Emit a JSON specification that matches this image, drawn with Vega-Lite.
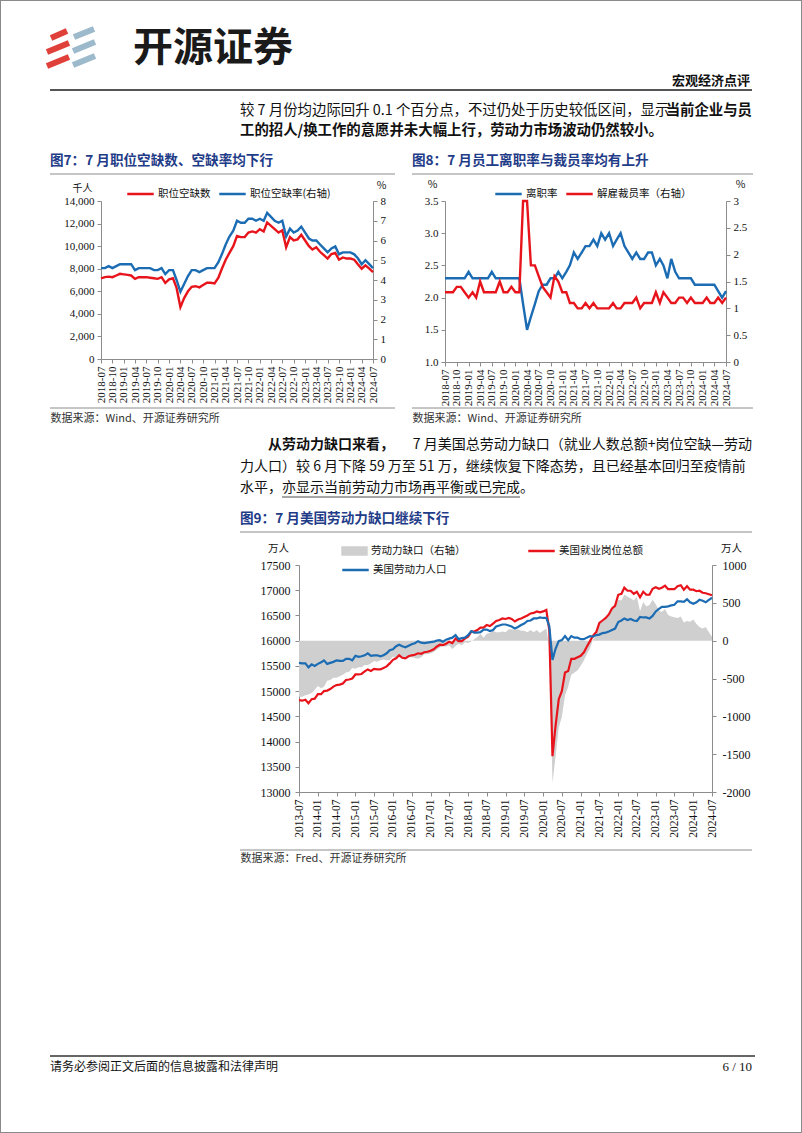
{
"$schema":"https://vega.github.io/schema/vega-lite/v6.json",
"width":802,"height":1133,"padding":0,"autosize":{"type":"none"},
"background":"white",
"config":{
 "view":{"stroke":"#8a8a8a","strokeWidth":2},
 "axis":{"grid":false,"labelFont":"Liberation Serif","labelFontSize":11,"labelColor":"#111","domainColor":"#8c8c8c","tickColor":"#8c8c8c","tickSize":4,"titleFont":"Noto Sans CJK SC","titleFontWeight":"normal","titleFontSize":10.5,"titleColor":"#111","titleAngle":0,"titleAlign":"center","titleBaseline":"middle","labelOverlap":false,"labelBound":false,"labelFlush":false,"labelPadding":3},
 "legend":{"orient":"none","labelFont":"Noto Sans CJK SC","labelFontSize":10.5,"labelColor":"#111","symbolSize":700,"symbolStrokeWidth":2.5,"labelOffset":3,"clipHeight":14,"padding":0,"columnPadding":7,"symbolOpacity":1}
},
"layer":[
{
 "data":{"values":[
{"month":"2018-07","openings":7150,"rate":4.6},{"month":"2018-08","openings":7250,"rate":4.6},{"month":"2018-09","openings":7300,"rate":4.7},{"month":"2018-10","openings":7250,"rate":4.6},{"month":"2018-11","openings":7400,"rate":4.7},{"month":"2018-12","openings":7550,"rate":4.8},
{"month":"2019-01","openings":7500,"rate":4.8},{"month":"2019-02","openings":7450,"rate":4.8},{"month":"2019-03","openings":7400,"rate":4.8},{"month":"2019-04","openings":7100,"rate":4.5},{"month":"2019-05","openings":7250,"rate":4.6},{"month":"2019-06","openings":7250,"rate":4.6},
{"month":"2019-07","openings":7250,"rate":4.6},{"month":"2019-08","openings":7200,"rate":4.6},{"month":"2019-09","openings":7150,"rate":4.5},{"month":"2019-10","openings":7100,"rate":4.5},{"month":"2019-11","openings":7250,"rate":4.6},{"month":"2019-12","openings":6750,"rate":4.3},
{"month":"2020-01","openings":7050,"rate":4.5},{"month":"2020-02","openings":7150,"rate":4.5},{"month":"2020-03","openings":6300,"rate":4.0},{"month":"2020-04","openings":4600,"rate":3.4},{"month":"2020-05","openings":5400,"rate":3.8},{"month":"2020-06","openings":6000,"rate":4.2},
{"month":"2020-07","openings":6400,"rate":4.5},{"month":"2020-08","openings":6450,"rate":4.5},{"month":"2020-09","openings":6350,"rate":4.4},{"month":"2020-10","openings":6550,"rate":4.5},{"month":"2020-11","openings":6750,"rate":4.6},{"month":"2020-12","openings":6750,"rate":4.6},
{"month":"2021-01","openings":6700,"rate":4.6},{"month":"2021-02","openings":7200,"rate":4.9},{"month":"2021-03","openings":8000,"rate":5.3},{"month":"2021-04","openings":8800,"rate":5.8},{"month":"2021-05","openings":9400,"rate":6.2},{"month":"2021-06","openings":10000,"rate":6.5},
{"month":"2021-07","openings":10900,"rate":7.0},{"month":"2021-08","openings":10800,"rate":6.9},{"month":"2021-09","openings":10800,"rate":6.9},{"month":"2021-10","openings":11200,"rate":7.1},{"month":"2021-11","openings":11300,"rate":7.1},{"month":"2021-12","openings":11200,"rate":7.0},
{"month":"2022-01","openings":11500,"rate":7.1},{"month":"2022-02","openings":11300,"rate":7.0},{"month":"2022-03","openings":12100,"rate":7.4},{"month":"2022-04","openings":11800,"rate":7.2},{"month":"2022-05","openings":11500,"rate":7.0},{"month":"2022-06","openings":11200,"rate":6.9},
{"month":"2022-07","openings":11400,"rate":7.0},{"month":"2022-08","openings":9900,"rate":6.2},{"month":"2022-09","openings":10800,"rate":6.6},{"month":"2022-10","openings":10500,"rate":6.4},{"month":"2022-11","openings":10600,"rate":6.5},{"month":"2022-12","openings":11000,"rate":6.7},
{"month":"2023-01","openings":10500,"rate":6.4},{"month":"2023-02","openings":10000,"rate":6.1},{"month":"2023-03","openings":9700,"rate":6.0},{"month":"2023-04","openings":9900,"rate":6.0},{"month":"2023-05","openings":9500,"rate":5.8},{"month":"2023-06","openings":9200,"rate":5.6},
{"month":"2023-07","openings":8900,"rate":5.4},{"month":"2023-08","openings":9300,"rate":5.6},{"month":"2023-09","openings":9400,"rate":5.7},{"month":"2023-10","openings":8800,"rate":5.3},{"month":"2023-11","openings":9000,"rate":5.4},{"month":"2023-12","openings":8900,"rate":5.4},
{"month":"2024-01","openings":8900,"rate":5.4},{"month":"2024-02","openings":8800,"rate":5.3},{"month":"2024-03","openings":8400,"rate":5.1},{"month":"2024-04","openings":8000,"rate":4.8},{"month":"2024-05","openings":8300,"rate":5.0},{"month":"2024-06","openings":8000,"rate":4.8},
{"month":"2024-07","openings":7700,"rate":4.6}
 ]},
 "layer":[
  {"mark":{"type":"line","strokeWidth":2.4},
   "encoding":{
    "x":{"field":"month","type":"temporal","scale":{"type":"utc","nice":false,"domain":[{"year":2018,"month":7,"date":1,"utc":true},{"year":2024,"month":7,"date":1,"utc":true}],"range":[101,373]},
         "axis":{"orient":"bottom","offset":-774,"labelExpr":"utcFormat(datum.value, '%Y-%m')","tickCount":{"interval":"month","step":3},"labelAngle":270,"title":"数据来源：Wind、开源证券研究所","titleX":50,"titleY":59,"titleAlign":"left","titleFontSize":11,"titleColor":"#333"}},
    "y":{"field":"openings","type":"quantitative","scale":{"domain":[0,14000],"range":[359,201],"nice":false},
         "axis":{"orient":"left","offset":-101,"values":[0,2000,4000,6000,8000,10000,12000,14000],"format":",d","title":"千人","titleX":-19,"titleY":188,"titleFontSize":10}},
    "color":{"datum":"职位空缺数","scale":{"domain":["职位空缺数","职位空缺率(右轴)"],"range":["#e8141c","#1c6cb4"]},
         "legend":{"title":null,"legendX":126,"legendY":187,"direction":"horizontal","symbolType":"stroke"}}
   }},
  {"mark":{"type":"line","strokeWidth":2.4},
   "encoding":{
    "x":{"field":"month","type":"temporal"},
    "y":{"field":"rate","type":"quantitative","scale":{"domain":[0,8],"range":[359,201],"nice":false},
         "axis":{"orient":"right","offset":-429,"values":[0,1,2,3,4,5,6,7,8],"title":"%","titleX":8,"titleY":185}},
    "color":{"datum":"职位空缺率(右轴)"}
   }}
 ],
 "resolve":{"scale":{"y":"independent"}}
},
{
 "data":{"values":[
{"month":"2018-07","quits":2.3,"layoffs":1.3},{"month":"2018-08","quits":2.3,"layoffs":1.3},{"month":"2018-09","quits":2.3,"layoffs":1.3},{"month":"2018-10","quits":2.3,"layoffs":1.4},{"month":"2018-11","quits":2.3,"layoffs":1.4},{"month":"2018-12","quits":2.3,"layoffs":1.3},
{"month":"2019-01","quits":2.4,"layoffs":1.2},{"month":"2019-02","quits":2.3,"layoffs":1.3},{"month":"2019-03","quits":2.3,"layoffs":1.2},{"month":"2019-04","quits":2.3,"layoffs":1.5},{"month":"2019-05","quits":2.3,"layoffs":1.3},{"month":"2019-06","quits":2.3,"layoffs":1.3},
{"month":"2019-07","quits":2.4,"layoffs":1.3},{"month":"2019-08","quits":2.3,"layoffs":1.3},{"month":"2019-09","quits":2.3,"layoffs":1.5},{"month":"2019-10","quits":2.3,"layoffs":1.3},{"month":"2019-11","quits":2.3,"layoffs":1.3},{"month":"2019-12","quits":2.3,"layoffs":1.4},
{"month":"2020-01","quits":2.3,"layoffs":1.3},{"month":"2020-02","quits":2.3,"layoffs":1.3},{"month":"2020-03","quits":1.9,"layoffs":7.5},{"month":"2020-04","quits":1.5,"layoffs":5.9},{"month":"2020-05","quits":1.7,"layoffs":1.8},{"month":"2020-06","quits":1.9,"layoffs":1.8},
{"month":"2020-07","quits":2.1,"layoffs":1.6},{"month":"2020-08","quits":2.2,"layoffs":1.4},{"month":"2020-09","quits":2.2,"layoffs":1.3},{"month":"2020-10","quits":2.3,"layoffs":1.2},{"month":"2020-11","quits":2.3,"layoffs":1.6},{"month":"2020-12","quits":2.4,"layoffs":1.5},
{"month":"2021-01","quits":2.3,"layoffs":1.3},{"month":"2021-02","quits":2.4,"layoffs":1.3},{"month":"2021-03","quits":2.5,"layoffs":1.1},{"month":"2021-04","quits":2.7,"layoffs":1.1},{"month":"2021-05","quits":2.6,"layoffs":1.0},{"month":"2021-06","quits":2.7,"layoffs":1.0},
{"month":"2021-07","quits":2.8,"layoffs":1.1},{"month":"2021-08","quits":2.8,"layoffs":1.0},{"month":"2021-09","quits":2.9,"layoffs":1.1},{"month":"2021-10","quits":2.8,"layoffs":1.0},{"month":"2021-11","quits":3.0,"layoffs":1.0},{"month":"2021-12","quits":2.9,"layoffs":1.0},
{"month":"2022-01","quits":3.0,"layoffs":1.0},{"month":"2022-02","quits":2.8,"layoffs":1.1},{"month":"2022-03","quits":2.9,"layoffs":1.0},{"month":"2022-04","quits":3.0,"layoffs":1.0},{"month":"2022-05","quits":2.8,"layoffs":1.1},{"month":"2022-06","quits":2.7,"layoffs":1.1},
{"month":"2022-07","quits":2.6,"layoffs":1.1},{"month":"2022-08","quits":2.7,"layoffs":1.2},{"month":"2022-09","quits":2.6,"layoffs":1.0},{"month":"2022-10","quits":2.6,"layoffs":1.1},{"month":"2022-11","quits":2.7,"layoffs":1.1},{"month":"2022-12","quits":2.7,"layoffs":1.1},
{"month":"2023-01","quits":2.5,"layoffs":1.3},{"month":"2023-02","quits":2.6,"layoffs":1.1},{"month":"2023-03","quits":2.5,"layoffs":1.3},{"month":"2023-04","quits":2.3,"layoffs":1.2},{"month":"2023-05","quits":2.6,"layoffs":1.1},{"month":"2023-06","quits":2.4,"layoffs":1.1},
{"month":"2023-07","quits":2.3,"layoffs":1.2},{"month":"2023-08","quits":2.3,"layoffs":1.2},{"month":"2023-09","quits":2.3,"layoffs":1.1},{"month":"2023-10","quits":2.3,"layoffs":1.2},{"month":"2023-11","quits":2.2,"layoffs":1.1},{"month":"2023-12","quits":2.2,"layoffs":1.1},
{"month":"2024-01","quits":2.2,"layoffs":1.1},{"month":"2024-02","quits":2.2,"layoffs":1.2},{"month":"2024-03","quits":2.2,"layoffs":1.1},{"month":"2024-04","quits":2.2,"layoffs":1.1},{"month":"2024-05","quits":2.1,"layoffs":1.2},{"month":"2024-06","quits":2.0,"layoffs":1.1},
{"month":"2024-07","quits":2.1,"layoffs":1.2}
 ]},
 "layer":[
  {"mark":{"type":"line","strokeWidth":2.4},
   "encoding":{
    "x":{"field":"month","type":"temporal","scale":{"type":"utc","nice":false,"domain":[{"year":2018,"month":7,"date":1,"utc":true},{"year":2024,"month":7,"date":1,"utc":true}],"range":[445,726]},
         "axis":{"orient":"bottom","offset":-771,"labelExpr":"utcFormat(datum.value, '%Y-%m')","tickCount":{"interval":"month","step":3},"labelAngle":270,"title":"数据来源：Wind、开源证券研究所","titleX":412,"titleY":56,"titleAlign":"left","titleFontSize":11,"titleColor":"#333"}},
    "y":{"field":"quits","type":"quantitative","scale":{"domain":[1,3.5],"range":[362,201],"nice":false,"zero":false},
         "axis":{"orient":"left","offset":-445,"values":[1,1.5,2,2.5,3,3.5],"format":".1f","title":"%","titleX":-13,"titleY":184}},
    "color":{"datum":"离职率","scale":{"domain":["离职率","解雇裁员率（右轴）"],"range":["#1c6cb4","#e8141c"]},
         "legend":{"title":null,"legendX":494,"legendY":187,"direction":"horizontal","symbolType":"stroke"}}
   }},
  {"mark":{"type":"line","strokeWidth":2.4},
   "encoding":{
    "x":{"field":"month","type":"temporal"},
    "y":{"field":"layoffs","type":"quantitative","scale":{"domain":[0,3],"range":[362,201],"nice":false,"clamp":true},
         "axis":{"orient":"right","offset":-76,"values":[0,0.5,1,1.5,2,2.5,3],"format":"~g","title":"%","titleX":14,"titleY":184}},
    "color":{"datum":"解雇裁员率（右轴）"}
   }}
 ],
 "resolve":{"scale":{"y":"independent"}}
},
{
 "data":{"values":[
{"month":"2013-07","jobs":14820,"labor":15560,"gap":-740},{"month":"2013-08","jobs":14810,"labor":15550,"gap":-740},{"month":"2013-09","jobs":14830,"labor":15550,"gap":-720},{"month":"2013-10","jobs":14760,"labor":15470,"gap":-710},{"month":"2013-11","jobs":14840,"labor":15530,"gap":-690},{"month":"2013-12","jobs":14850,"labor":15500,"gap":-650},
{"month":"2014-01","jobs":14940,"labor":15540,"gap":-600},{"month":"2014-02","jobs":14940,"labor":15570,"gap":-630},{"month":"2014-03","jobs":15000,"labor":15610,"gap":-610},{"month":"2014-04","jobs":15010,"labor":15540,"gap":-530},{"month":"2014-05","jobs":15040,"labor":15560,"gap":-520},{"month":"2014-06","jobs":15090,"labor":15580,"gap":-490},
{"month":"2014-07","jobs":15120,"labor":15610,"gap":-490},{"month":"2014-08","jobs":15130,"labor":15600,"gap":-470},{"month":"2014-09","jobs":15150,"labor":15600,"gap":-450},{"month":"2014-10","jobs":15220,"labor":15640,"gap":-420},{"month":"2014-11","jobs":15230,"labor":15640,"gap":-410},{"month":"2014-12","jobs":15250,"labor":15610,"gap":-360},
{"month":"2015-01","jobs":15330,"labor":15700,"gap":-370},{"month":"2015-02","jobs":15330,"labor":15680,"gap":-350},{"month":"2015-03","jobs":15340,"labor":15690,"gap":-350},{"month":"2015-04","jobs":15390,"labor":15710,"gap":-320},{"month":"2015-05","jobs":15430,"labor":15750,"gap":-320},{"month":"2015-06","jobs":15400,"labor":15700,"gap":-300},
{"month":"2015-07","jobs":15440,"labor":15710,"gap":-270},{"month":"2015-08","jobs":15430,"labor":15710,"gap":-280},{"month":"2015-09","jobs":15430,"labor":15690,"gap":-260},{"month":"2015-10","jobs":15460,"labor":15710,"gap":-250},{"month":"2015-11","jobs":15490,"labor":15750,"gap":-260},{"month":"2015-12","jobs":15550,"labor":15810,"gap":-260},
{"month":"2016-01","jobs":15620,"labor":15830,"gap":-210},{"month":"2016-02","jobs":15650,"labor":15890,"gap":-240},{"month":"2016-03","jobs":15710,"labor":15920,"gap":-210},{"month":"2016-04","jobs":15660,"labor":15890,"gap":-230},{"month":"2016-05","jobs":15650,"labor":15870,"gap":-220},{"month":"2016-06","jobs":15690,"labor":15900,"gap":-210},
{"month":"2016-07","jobs":15710,"labor":15930,"gap":-220},{"month":"2016-08","jobs":15720,"labor":15950,"gap":-230},{"month":"2016-09","jobs":15750,"labor":15990,"gap":-240},{"month":"2016-10","jobs":15740,"labor":15960,"gap":-220},{"month":"2016-11","jobs":15770,"labor":15950,"gap":-180},{"month":"2016-12","jobs":15780,"labor":15960,"gap":-180},
{"month":"2017-01","jobs":15800,"labor":15970,"gap":-170},{"month":"2017-02","jobs":15830,"labor":15980,"gap":-150},{"month":"2017-03","jobs":15880,"labor":16000,"gap":-120},{"month":"2017-04","jobs":15920,"labor":16010,"gap":-90},{"month":"2017-05","jobs":15910,"labor":15980,"gap":-70},{"month":"2017-06","jobs":15940,"labor":16020,"gap":-80},
{"month":"2017-07","jobs":15980,"labor":16040,"gap":-60},{"month":"2017-08","jobs":15950,"labor":16060,"gap":-110},{"month":"2017-09","jobs":16040,"labor":16110,"gap":-70},{"month":"2017-10","jobs":15990,"labor":16030,"gap":-40},{"month":"2017-11","jobs":15990,"labor":16050,"gap":-60},{"month":"2017-12","jobs":16040,"labor":16060,"gap":-20},
{"month":"2018-01","jobs":16080,"labor":16110,"gap":-30},{"month":"2018-02","jobs":16180,"labor":16190,"gap":-10},{"month":"2018-03","jobs":16180,"labor":16160,"gap":20},{"month":"2018-04","jobs":16210,"labor":16160,"gap":50},{"month":"2018-05","jobs":16260,"labor":16170,"gap":90},{"month":"2018-06","jobs":16260,"labor":16220,"gap":40},
{"month":"2018-07","jobs":16310,"labor":16220,"gap":90},{"month":"2018-08","jobs":16290,"labor":16190,"gap":100},{"month":"2018-09","jobs":16340,"labor":16210,"gap":130},{"month":"2018-10","jobs":16390,"labor":16280,"gap":110},{"month":"2018-11","jobs":16410,"labor":16300,"gap":110},{"month":"2018-12","jobs":16440,"labor":16320,"gap":120},
{"month":"2019-01","jobs":16430,"labor":16320,"gap":110},{"month":"2019-02","jobs":16450,"labor":16300,"gap":150},{"month":"2019-03","jobs":16430,"labor":16280,"gap":150},{"month":"2019-04","jobs":16380,"labor":16240,"gap":140},{"month":"2019-05","jobs":16420,"labor":16270,"gap":150},{"month":"2019-06","jobs":16440,"labor":16310,"gap":130},
{"month":"2019-07","jobs":16470,"labor":16340,"gap":130},{"month":"2019-08","jobs":16500,"labor":16390,"gap":110},{"month":"2019-09","jobs":16540,"labor":16400,"gap":140},{"month":"2019-10","jobs":16550,"labor":16440,"gap":110},{"month":"2019-11","jobs":16580,"labor":16440,"gap":140},{"month":"2019-12","jobs":16560,"labor":16460,"gap":100},
{"month":"2020-01","jobs":16580,"labor":16450,"gap":130},{"month":"2020-02","jobs":16610,"labor":16450,"gap":160},{"month":"2020-03","jobs":16210,"labor":16290,"gap":-80},{"month":"2020-04","jobs":13710,"labor":15620,"gap":-1880},{"month":"2020-05","jobs":14310,"labor":15840,"gap":-1530},{"month":"2020-06","jobs":14840,"labor":15990,"gap":-1150},
{"month":"2020-07","jobs":15000,"labor":16010,"gap":-1010},{"month":"2020-08","jobs":15370,"labor":16090,"gap":-720},{"month":"2020-09","jobs":15400,"labor":16010,"gap":-610},{"month":"2020-10","jobs":15640,"labor":16090,"gap":-450},{"month":"2020-11","jobs":15640,"labor":16060,"gap":-420},{"month":"2020-12","jobs":15670,"labor":16060,"gap":-390},
{"month":"2021-01","jobs":15700,"labor":16030,"gap":-330},{"month":"2021-02","jobs":15770,"labor":16030,"gap":-260},{"month":"2021-03","jobs":15880,"labor":16060,"gap":-180},{"month":"2021-04","jobs":15990,"labor":16090,"gap":-100},{"month":"2021-05","jobs":16100,"labor":16080,"gap":20},{"month":"2021-06","jobs":16170,"labor":16110,"gap":60},
{"month":"2021-07","jobs":16350,"labor":16120,"gap":230},{"month":"2021-08","jobs":16400,"labor":16150,"gap":250},{"month":"2021-09","jobs":16450,"labor":16160,"gap":290},{"month":"2021-10","jobs":16520,"labor":16180,"gap":340},{"month":"2021-11","jobs":16640,"labor":16210,"gap":430},{"month":"2021-12","jobs":16690,"labor":16240,"gap":450},
{"month":"2022-01","jobs":16910,"labor":16370,"gap":540},{"month":"2022-02","jobs":16930,"labor":16400,"gap":530},{"month":"2022-03","jobs":17050,"labor":16440,"gap":610},{"month":"2022-04","jobs":16990,"labor":16410,"gap":580},{"month":"2022-05","jobs":16990,"labor":16430,"gap":560},{"month":"2022-06","jobs":16930,"labor":16400,"gap":530},
{"month":"2022-07","jobs":16970,"labor":16390,"gap":580},{"month":"2022-08","jobs":16860,"labor":16470,"gap":390},{"month":"2022-09","jobs":16970,"labor":16460,"gap":510},{"month":"2022-10","jobs":16910,"labor":16460,"gap":450},{"month":"2022-11","jobs":16910,"labor":16440,"gap":470},{"month":"2022-12","jobs":17030,"labor":16490,"gap":540},
{"month":"2023-01","jobs":17060,"labor":16580,"gap":480},{"month":"2023-02","jobs":17030,"labor":16630,"gap":400},{"month":"2023-03","jobs":17050,"labor":16670,"gap":380},{"month":"2023-04","jobs":17090,"labor":16670,"gap":420},{"month":"2023-05","jobs":17020,"labor":16680,"gap":340},{"month":"2023-06","jobs":17020,"labor":16700,"gap":320},
{"month":"2023-07","jobs":17020,"labor":16710,"gap":310},{"month":"2023-08","jobs":17080,"labor":16780,"gap":300},{"month":"2023-09","jobs":17100,"labor":16780,"gap":320},{"month":"2023-10","jobs":17010,"labor":16770,"gap":240},{"month":"2023-11","jobs":17080,"labor":16820,"gap":260},{"month":"2023-12","jobs":17010,"labor":16760,"gap":250},
{"month":"2024-01","jobs":17010,"labor":16730,"gap":280},{"month":"2024-02","jobs":16980,"labor":16760,"gap":220},{"month":"2024-03","jobs":16990,"labor":16810,"gap":180},{"month":"2024-04","jobs":16950,"labor":16790,"gap":160},{"month":"2024-05","jobs":16940,"labor":16760,"gap":180},{"month":"2024-06","jobs":16920,"labor":16810,"gap":110},
{"month":"2024-07","jobs":16900,"labor":16850,"gap":51}
 ]},
 "layer":[
  {"mark":{"type":"area","opacity":1},
   "encoding":{
    "x":{"field":"month","type":"temporal","scale":{"type":"utc","nice":false,"domain":[{"year":2013,"month":7,"date":1,"utc":true},{"year":2024,"month":7,"date":1,"utc":true}],"range":[299,712]},
         "axis":{"orient":"bottom","offset":-341,"labelExpr":"utcFormat(datum.value, '%Y-%m')","tickCount":{"interval":"month","step":6},"labelAngle":270,"labelFontSize":11.5,"title":"数据来源：Fred、开源证券研究所","titleX":240,"titleY":66,"titleAlign":"left","titleFontSize":11,"titleColor":"#333"}},
    "y":{"field":"gap","type":"quantitative","stack":null,"scale":{"domain":[-2000,1000],"range":[792,565],"nice":false},
         "axis":{"orient":"right","offset":-90,"values":[-2000,-1500,-1000,-500,0,500,1000],"labelExpr":"'' + datum.value","labelFontSize":12,"labelPadding":6,"title":"万人","titleX":19,"titleY":548}},
    "y2":{"datum":0},
    "fill":{"datum":"劳动力缺口（右轴）","scale":{"range":["#cfcfcf"]},
         "legend":{"title":null,"legendX":341,"legendY":544,"symbolType":"M-1,-0.35H1V0.35H-1Z","symbolStrokeWidth":0}}
   }},
  {"layer":[
    {"mark":{"type":"line","strokeWidth":2.2},
     "encoding":{
      "x":{"field":"month","type":"temporal"},
      "y":{"field":"jobs","type":"quantitative","scale":{"domain":[13000,17500],"range":[792,565],"nice":false,"zero":false},
           "axis":{"orient":"left","offset":-299,"values":[13000,13500,14000,14500,15000,15500,16000,16500,17000,17500],"labelExpr":"'' + datum.value","labelFontSize":12,"labelPadding":5,"title":"万人","titleX":-21,"titleY":548}},
      "stroke":{"datum":"美国就业岗位总额","scale":{"range":["#e8141c"]},
           "legend":{"title":null,"legendX":527,"legendY":544,"symbolType":"stroke"}}
     }},
    {"mark":{"type":"line","strokeWidth":2.2},
     "encoding":{
      "x":{"field":"month","type":"temporal"},
      "y":{"field":"labor","type":"quantitative"},
      "color":{"datum":"美国劳动力人口","scale":{"range":["#1c6cb4"]},
           "legend":{"title":null,"legendX":341,"legendY":563,"symbolType":"stroke"}}
     }}
  ]}
 ],
 "resolve":{"scale":{"y":"independent"}}
},
{"data":{"values":[{}]},"mark":{"type":"rule","stroke":"#555","strokeWidth":2},"encoding":{"x":{"value":50},"x2":{"value":752},"y":{"value":90},"y2":{"value":90}}},
{"data":{"values":[{}]},"mark":{"type":"rule","stroke":"#8c8c8c","strokeWidth":1},"encoding":{"x":{"value":50},"x2":{"value":395},"y":{"value":174},"y2":{"value":174}}},
{"data":{"values":[{}]},"mark":{"type":"rule","stroke":"#8c8c8c","strokeWidth":1},"encoding":{"x":{"value":412},"x2":{"value":753},"y":{"value":174},"y2":{"value":174}}},
{"data":{"values":[{}]},"mark":{"type":"rule","stroke":"#8c8c8c","strokeWidth":1},"encoding":{"x":{"value":50},"x2":{"value":395},"y":{"value":408},"y2":{"value":408}}},
{"data":{"values":[{}]},"mark":{"type":"rule","stroke":"#8c8c8c","strokeWidth":1},"encoding":{"x":{"value":412},"x2":{"value":753},"y":{"value":408},"y2":{"value":408}}},
{"data":{"values":[{}]},"mark":{"type":"rule","stroke":"#8c8c8c","strokeWidth":1},"encoding":{"x":{"value":240},"x2":{"value":752},"y":{"value":532},"y2":{"value":532}}},
{"data":{"values":[{}]},"mark":{"type":"rule","stroke":"#8c8c8c","strokeWidth":1},"encoding":{"x":{"value":240},"x2":{"value":752},"y":{"value":850},"y2":{"value":850}}},
{"data":{"values":[{}]},"mark":{"type":"rule","stroke":"#333","strokeWidth":1.5},"encoding":{"x":{"value":50},"x2":{"value":755},"y":{"value":1056},"y2":{"value":1056}}},
{"data":{"values":[{}]},"mark":{"type":"rule","stroke":"#222","strokeWidth":0.8},"encoding":{"x":{"value":282},"x2":{"value":520},"y":{"value":497},"y2":{"value":497}}},
{"data":{"values":[{}]},"mark":{"type":"rule","stroke":"#e0403a","strokeWidth":6},"encoding":{"x":{"value":51},"x2":{"value":67},"y":{"value":38},"y2":{"value":31}}},
{"data":{"values":[{}]},"mark":{"type":"rule","stroke":"#e0403a","strokeWidth":6},"encoding":{"x":{"value":47},"x2":{"value":69},"y":{"value":52},"y2":{"value":43}}},
{"data":{"values":[{}]},"mark":{"type":"rule","stroke":"#e0403a","strokeWidth":6},"encoding":{"x":{"value":47},"x2":{"value":69},"y":{"value":66},"y2":{"value":57}}},
{"data":{"values":[{}]},"mark":{"type":"rule","stroke":"#9db9cc","strokeWidth":6},"encoding":{"x":{"value":74},"x2":{"value":94},"y":{"value":37},"y2":{"value":29}}},
{"data":{"values":[{}]},"mark":{"type":"rule","stroke":"#9db9cc","strokeWidth":6},"encoding":{"x":{"value":73},"x2":{"value":95},"y":{"value":51},"y2":{"value":42}}},
{"data":{"values":[{}]},"mark":{"type":"rule","stroke":"#9db9cc","strokeWidth":6},"encoding":{"x":{"value":73},"x2":{"value":95},"y":{"value":65},"y2":{"value":56}}},
{"data":{"values":[{}]},"mark":{"type":"text","text":"开源证券","x":133,"y":49,"align":"left","baseline":"middle","font":"Noto Sans CJK SC","fontSize":40,"fontWeight":"bold","color":"#1a1a1a"}},
{"data":{"values":[{}]},"mark":{"type":"text","text":"宏观经济点评","x":750,"y":81,"align":"right","baseline":"middle","font":"Noto Sans CJK SC","fontSize":13,"fontWeight":"bold","color":"#111"}},
{"data":{"values":[{}]},"mark":{"type":"text","text":"较 7 月份均边际回升 0.1 个百分点，不过仍处于历史较低区间，显示","x":240,"y":111,"align":"left","baseline":"middle","font":"Noto Sans CJK SC","fontSize":14.4,"color":"#111"}},
{"data":{"values":[{}]},"mark":{"type":"text","text":"当前企业与员","x":752,"y":111,"align":"right","baseline":"middle","font":"Noto Sans CJK SC","fontSize":14.4,"fontWeight":"bold","color":"#111"}},
{"data":{"values":[{}]},"mark":{"type":"text","text":"工的招人/换工作的意愿并未大幅上行，劳动力市场波动仍然较小。","x":240,"y":131,"align":"left","baseline":"middle","font":"Noto Sans CJK SC","fontSize":14.4,"fontWeight":"bold","color":"#111"}},
{"data":{"values":[{}]},"mark":{"type":"text","text":"图7：7 月职位空缺数、空缺率均下行","x":50,"y":161,"align":"left","baseline":"middle","font":"Noto Sans CJK SC","fontSize":13.6,"fontWeight":"bold","color":"#1f3c88"}},
{"data":{"values":[{}]},"mark":{"type":"text","text":"图8：7 月员工离职率与裁员率均有上升","x":412,"y":161,"align":"left","baseline":"middle","font":"Noto Sans CJK SC","fontSize":13.6,"fontWeight":"bold","color":"#1f3c88"}},
{"data":{"values":[{}]},"mark":{"type":"text","text":"从劳动力缺口来看，","x":268,"y":445,"align":"left","baseline":"middle","font":"Noto Sans CJK SC","fontSize":14,"fontWeight":"bold","color":"#111"}},
{"data":{"values":[{}]},"mark":{"type":"text","text":"7 月美国总劳动力缺口（就业人数总额+岗位空缺—劳动","x":752,"y":445,"align":"right","baseline":"middle","font":"Noto Sans CJK SC","fontSize":14,"color":"#111"}},
{"data":{"values":[{}]},"mark":{"type":"text","text":"力人口）较 6 月下降 59 万至 51 万，继续恢复下降态势，且已经基本回归至疫情前","x":240,"y":467,"align":"left","baseline":"middle","font":"Noto Sans CJK SC","fontSize":14,"color":"#111"}},
{"data":{"values":[{}]},"mark":{"type":"text","text":"水平，亦显示当前劳动力市场再平衡或已完成。","x":240,"y":488,"align":"left","baseline":"middle","font":"Noto Sans CJK SC","fontSize":14,"color":"#111"}},
{"data":{"values":[{}]},"mark":{"type":"text","text":"图9：7 月美国劳动力缺口继续下行","x":240,"y":519,"align":"left","baseline":"middle","font":"Noto Sans CJK SC","fontSize":13.6,"fontWeight":"bold","color":"#1f3c88"}},
{"data":{"values":[{}]},"mark":{"type":"text","text":"请务必参阅正文后面的信息披露和法律声明","x":50,"y":1067,"align":"left","baseline":"middle","font":"Noto Sans CJK SC","fontSize":12,"color":"#111"}},
{"data":{"values":[{}]},"mark":{"type":"text","text":"6 / 10","x":752,"y":1067,"align":"right","baseline":"middle","font":"Liberation Serif","fontSize":13,"color":"#111"}}
],
"resolve":{"scale":{"x":"independent","y":"independent","color":"independent"}}
}
